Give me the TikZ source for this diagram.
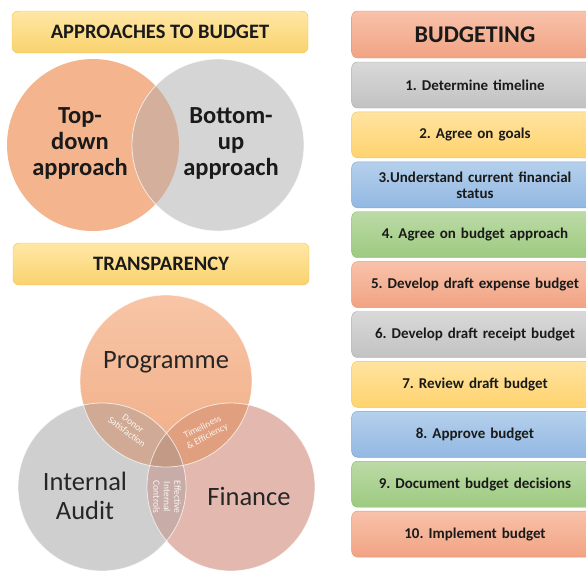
\documentclass[tikz,border=0pt]{standalone}
\usepackage{fontspec}
\setmainfont{Carlito}
\frenchspacing
\definecolor{txt}{HTML}{1A1A1A}
\definecolor{hdrT}{HTML}{FFE7A6}
\definecolor{hdrB}{HTML}{F9D26E}
\definecolor{hdrL}{HTML}{F0C455}
\definecolor{salT}{HTML}{F8C2AA}
\definecolor{salB}{HTML}{F1A383}
\definecolor{salL}{HTML}{E39678}
\definecolor{gryT}{HTML}{D9D9D9}
\definecolor{gryB}{HTML}{C2C2C2}
\definecolor{gryL}{HTML}{A8A8A8}
\definecolor{ylwT}{HTML}{FFE3A0}
\definecolor{ylwB}{HTML}{FFD36E}
\definecolor{ylwL}{HTML}{F0C25A}
\definecolor{bluT}{HTML}{B5D0EC}
\definecolor{bluB}{HTML}{92B8E2}
\definecolor{bluL}{HTML}{7FA4CF}
\definecolor{grnT}{HTML}{BCDAA6}
\definecolor{grnB}{HTML}{9DCA80}
\definecolor{grnL}{HTML}{88B86C}
\definecolor{orgC}{HTML}{F3B48E}
\definecolor{gryC}{HTML}{D5D5D5}
\definecolor{ovTop}{HTML}{D3AF9C}
\definecolor{prgT}{HTML}{F7C5A6}
\definecolor{prgB}{HTML}{F1AD86}
\definecolor{audC}{HTML}{CFCFCF}
\definecolor{finC}{HTML}{E3B9AF}
\definecolor{ovPA}{HTML}{D0AA95}
\definecolor{ovPF}{HTML}{E09F7E}
\definecolor{ovAF}{HTML}{C8ACA8}
\definecolor{ovPAF}{HTML}{C39A85}
\begin{document}
\begin{tikzpicture}[x=1pt,y=-1pt,
    hdrbox/.style={draw=hdrL,rounded corners=6pt,top color=hdrT,bottom color=hdrB,
      minimum width=296pt,minimum height=42pt,text=txt,
      font=\bfseries\fontsize{20.5}{22}\selectfont},
    stepbox/.style={draw=#1L,rounded corners=6pt,top color=#1T,bottom color=#1B,
      minimum width=246pt,minimum height=46pt,text width=240pt,align=center,
      text=txt,font=\bfseries\fontsize{15}{16}\selectfont},
    bigtxt/.style={align=center,text=txt,font=\bfseries\fontsize{24.5}{26}\selectfont},
    venntxt/.style={align=center,text=black!85,font=\fontsize{26.5}{29}\selectfont},
    smalltxt/.style={align=center,text=white,text opacity=0.9,
      font=\fontsize{9.5}{10.5}\selectfont},
    rim/.style={draw=white,opacity=0.7,line width=0.8pt}]
  \path[use as bounding box,clip] (0,0) rectangle (586,571);

  \coordinate (td) at (93,145);
  \coordinate (bu) at (218,145);
  \coordinate (prg) at (166,381);
  \coordinate (aud) at (102,487);
  \coordinate (fin) at (231,487);

  \fill[orgC] (td) circle[radius=86pt];
  \fill[gryC] (bu) circle[radius=86pt];
  \begin{scope}
    \clip (td) circle[radius=86pt];
    \fill[ovTop] (bu) circle[radius=86pt];
  \end{scope}
  \draw[rim] (bu) circle[radius=86pt];

  \node[hdrbox] (approaches) at (160,32) {APPROACHES TO BUDGET};
  \node[bigtxt] (topdown) at (80,143) {Top-\\down\\approach};
  \node[bigtxt] (bottomup) at (231,143) {Bottom-\\up\\approach};

  \node[hdrbox] (transparency) at (161,264) {TRANSPARENCY};

  \shade[top color=prgT,bottom color=prgB] (prg) circle[radius=86pt];
  \fill[audC] (aud) circle[radius=84pt];
  \fill[finC] (fin) circle[radius=84pt];
  \begin{scope}
    \clip (prg) circle[radius=86pt];
    \fill[ovPA] (aud) circle[radius=84pt];
    \fill[ovPF] (fin) circle[radius=84pt];
  \end{scope}
  \begin{scope}
    \clip (aud) circle[radius=84pt];
    \fill[ovAF] (fin) circle[radius=84pt];
    \clip (fin) circle[radius=84pt];
    \fill[ovPAF] (prg) circle[radius=86pt];
  \end{scope}
  \draw[rim] (prg) circle[radius=86pt];
  \draw[rim] (aud) circle[radius=84pt];
  \draw[rim] (fin) circle[radius=84pt];

  \node[venntxt] (programme) at (166,362) {Programme};
  \node[venntxt] (audit) at (85,496) {Internal\\Audit};
  \node[venntxt] (finance) at (249,496) {Finance};
  \node[smalltxt,rotate=-37] (donor) at (130,428) {Donor\\Satisfaction};
  \node[smalltxt,rotate=27] (timely) at (205,432) {Timeliness\\\& Efficiency};
  \node[smalltxt,rotate=-90] (controls) at (167,497) {Effective\\Internal\\Controls};

  \node[stepbox=sal,minimum height=47pt,font=\bfseries\fontsize{24}{26}\selectfont]
    (budgeting) at (475,34.5) {BUDGETING};
  \foreach \t/\c [count=\i] in {1. Determine timeline/gry,
      2. Agree on goals/ylw,
      {3.Understand current financial\\status}/blu,
      4. Agree on budget approach/grn,
      5. Develop draft expense budget/sal,
      6. Develop draft receipt budget/gry,
      7. Review draft budget/ylw,
      8. Approve budget/blu,
      9. Document budget decisions/grn,
      10. Implement budget/sal}
    \node[stepbox=\c] (step\i) at (475,{85+(\i-1)*49.9}) {\t};
\end{tikzpicture}
\end{document}
